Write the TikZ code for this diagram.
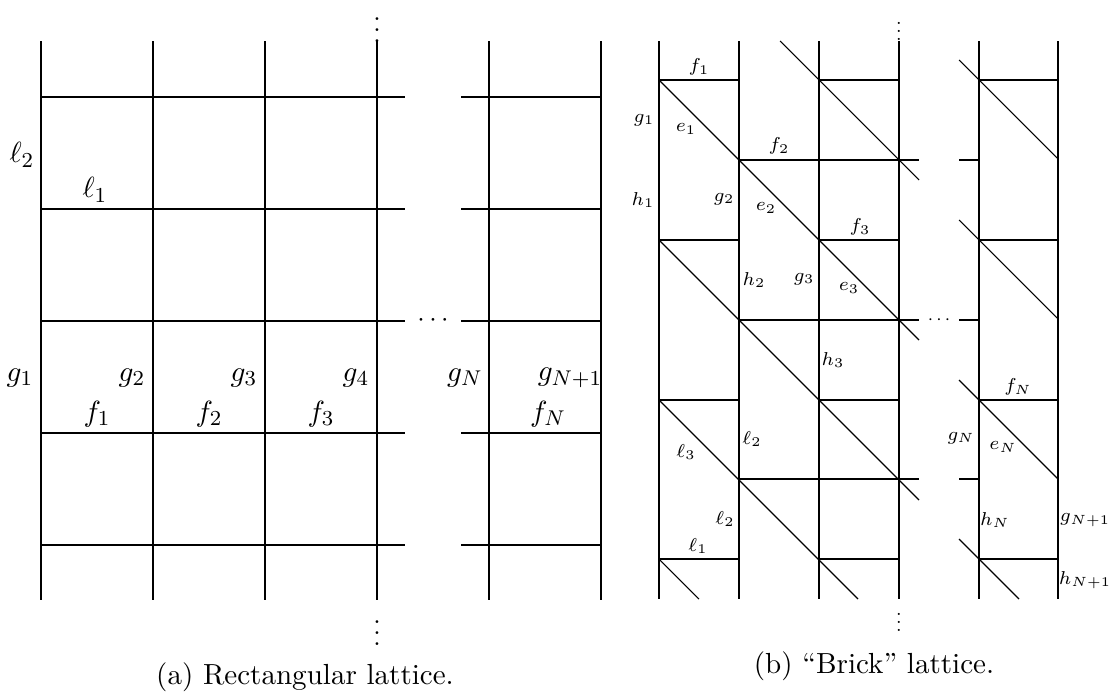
\documentclass[tikz,border=0pt]{standalone}
\usepackage{graphicx}
\begin{document}
\begin{tikzpicture}[x=0.375pt,y=-0.375pt,
  lat/.style={line width=0.4pt},
  lbl/.style={inner sep=0pt,font=\fontsize{10.8}{13}\selectfont},
  slbl/.style={inner sep=0pt,font=\fontsize{7.5}{9}\selectfont},
  dts/.style={inner sep=0pt},
  captxt/.style={inner sep=0pt,anchor=base,font=\fontsize{10.9}{13}\selectfont}]
\useasboundingbox (0,0) rectangle (1115,691);
% ---------------- (a) rectangular lattice ----------------
\foreach \x in {41,153,265,377,489,601} \draw[lat] (\x,41) -- (\x,600);
\foreach \y in {97,209,321,433,545} {
  \draw[lat] (41,\y) -- (405,\y);
  \draw[lat] (461,\y) -- (601,\y);
}
\node[dts] (atop) at (377,22) {$\vdots$};
\node[dts] (abot) at (377,625) {$\vdots$};
\node[dts] (amid) at (433,321) {$\cdots$};
\node[lbl] (al2) at (22,155) {$\ell_2$};
\node[lbl] (al1) at (95,190) {$\ell_1$};
\node[lbl] (ag1) at (20,378) {$g_1$};
\node[lbl] (ag2) at (132,378) {$g_2$};
\node[lbl] (ag3) at (244,378) {$g_3$};
\node[lbl] (ag4) at (356,378) {$g_4$};
\node[lbl] (agN) at (465,378) {$g_N$};
\node[lbl] (agN1) at (570,378) {$g_{N+1}$};
\node[lbl] (af1) at (97,414) {$f_1$};
\node[lbl] (af2) at (209,414) {$f_2$};
\node[lbl] (af3) at (321,414) {$f_3$};
\node[lbl] (afN) at (548,414) {$f_N$};
\node[captxt] (capa) at (305,684) {(a) Rectangular lattice.};
% ---------------- (b) brick lattice ----------------
\foreach \x in {659,739,819,899,979,1058} \draw[lat] (\x,41) -- (\x,599);
\foreach \y in {80,240,400,559} {
  \draw[lat] (659,\y) -- (739,\y);
  \draw[lat] (819,\y) -- (899,\y);
  \draw[lat] (979,\y) -- (1058,\y);
}
\foreach \y in {160,320,479} {
  \draw[lat] (739,\y) -- (919,\y);
  \draw[lat] (959,\y) -- (979,\y);
}
% diagonals
\draw[lat] (780,41) -- (919,180);
\draw[lat] (659,80) -- (919,340);
\draw[lat] (659,240) -- (919,500);
\draw[lat] (659,400) -- (858,599);
\draw[lat] (659,559) -- (699,599);
\draw[lat] (959,60) -- (1058,159);
\draw[lat] (959,220) -- (1058,319);
\draw[lat] (959,380) -- (1058,479);
\draw[lat] (959,539) -- (1019,599);
\node[dts] (btop) at (899,25) {\scalebox{0.75}{$\vdots$}};
\node[dts] (bbot) at (899,616) {\scalebox{0.75}{$\vdots$}};
\node[dts] (bmid) at (939,320) {\scalebox{0.72}{$\cdots$}};
\node[slbl] (bf1) at (699,67) {$f_1$};
\node[slbl] (bg1) at (644,120) {$g_1$};
\node[slbl] (be1) at (686,129) {$e_1$};
\node[slbl] (bf2) at (779,146) {$f_2$};
\node[slbl] (bh1) at (643,200) {$h_1$};
\node[slbl] (bg2) at (724,199) {$g_2$};
\node[slbl] (be2) at (766,208) {$e_2$};
\node[slbl] (bf3) at (860,227) {$f_3$};
\node[slbl] (bh2) at (754,280) {$h_2$};
\node[slbl] (bg3) at (804,279) {$g_3$};
\node[slbl] (be3) at (849,288) {$e_3$};
\node[slbl] (bh3) at (833,360) {$h_3$};
\node[slbl] (bl2a) at (752,439) {$\ell_2$};
\node[slbl] (bl3) at (686,452) {$\ell_3$};
\node[slbl] (bl2b) at (725,519) {$\ell_2$};
\node[slbl] (bl1) at (698,546) {$\ell_1$};
\node[slbl] (bfN) at (1018,387) {$f_N$};
\node[slbl] (bgN) at (961,438) {$g_N$};
\node[slbl] (beN) at (1003,447) {$e_N$};
\node[slbl] (bhN) at (995,520) {$h_N$};
\node[slbl] (bgN1) at (1085,520) {$g_{N+1}$};
\node[slbl] (bhN1) at (1085,580) {$h_{N+1}$};
\node[captxt] (capb) at (874,673) {(b) “Brick” lattice.};
\end{tikzpicture}
\end{document}
